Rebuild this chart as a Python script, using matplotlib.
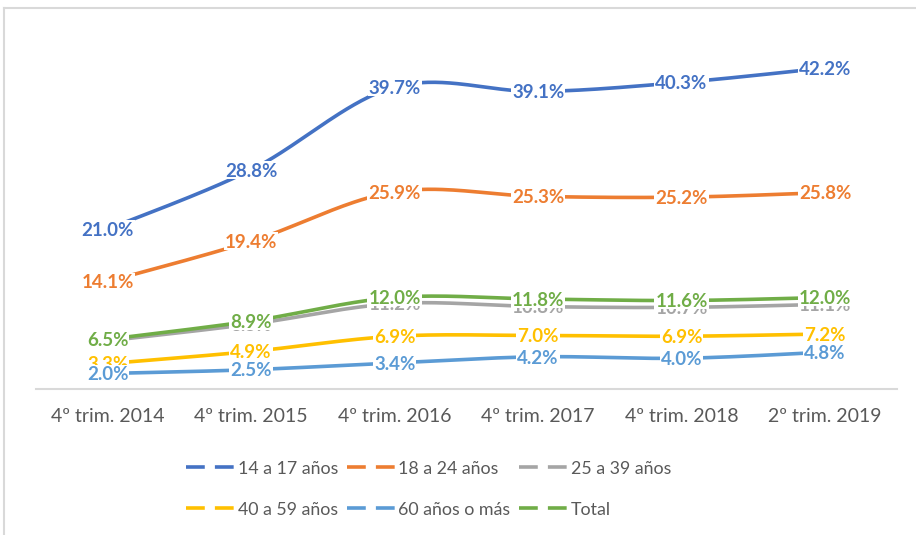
import numpy as np
import matplotlib
matplotlib.use("Agg")
import matplotlib.pyplot as plt
from matplotlib.lines import Line2D
from matplotlib.patches import Rectangle
from matplotlib.transforms import offset_copy, IdentityTransform

plt.rcParams['font.family'] = ['Lato', 'DejaVu Sans']

# datos
trimestres = ["4º trim. 2014", "4º trim. 2015", "4º trim. 2016",
              "4º trim. 2017", "4º trim. 2018", "2º trim. 2019"]
edad_14_17 = [21.0, 28.8, 39.7, 39.1, 40.3, 42.2]
edad_18_24 = [14.1, 19.4, 25.9, 25.3, 25.2, 25.8]
edad_25_39 = [6.3, 8.5, 11.2, 10.8, 10.7, 11.1]
edad_40_59 = [3.3, 4.9, 6.9, 7.0, 6.9, 7.2]
edad_60_mas = [2.0, 2.5, 3.4, 4.2, 4.0, 4.8]
total = [6.5, 8.9, 12.0, 11.8, 11.6, 12.0]

series = [
    ("14 a 17 años", edad_14_17, "#4472C4"),
    ("18 a 24 años", edad_18_24, "#ED7D31"),
    ("25 a 39 años", edad_25_39, "#A5A5A5"),
    ("40 a 59 años", edad_40_59, "#FFC000"),
    ("60 años o más", edad_60_mas, "#5B9BD5"),
    ("Total", total, "#70AD47"),
]


def suavizar(x, y, n=40):
    # curva bezier tipo Excel entre puntos consecutivos
    x = np.asarray(x, float)
    y = np.asarray(y, float)
    px = np.concatenate([[x[0]], x, [x[-1]]])
    py = np.concatenate([[y[0]], y, [y[-1]]])
    t = np.linspace(0, 1, n)
    xs, ys = [], []
    for i in range(1, len(px) - 2):
        p0 = np.array([px[i], py[i]])
        p3 = np.array([px[i + 1], py[i + 1]])
        c1 = p0 + (np.array([px[i + 1], py[i + 1]]) - np.array([px[i - 1], py[i - 1]])) / 6
        c2 = p3 - (np.array([px[i + 2], py[i + 2]]) - np.array([px[i], py[i]])) / 6
        b = (np.outer((1 - t) ** 3, p0) + np.outer(3 * (1 - t) ** 2 * t, c1)
             + np.outer(3 * (1 - t) * t ** 2, c2) + np.outer(t ** 3, p3))
        xs.append(b[:, 0])
        ys.append(b[:, 1])
    return np.concatenate(xs), np.concatenate(ys)


fig = plt.figure(figsize=(9.16, 5.35), dpi=100)
ax = fig.add_axes([0.0393, 0.2735, 0.9397, 0.6392])

x = np.arange(len(trimestres))
for nombre, vals, color in series:
    sx, sy = suavizar(x, vals)
    ax.plot(sx, sy, color=color, lw=2.6, solid_capstyle='round', zorder=2)

# etiquetas centradas en el punto (altura de mayusculas)
fs = 13.5
cap = 0.72 * fs
textos = []
for k, (nombre, vals, color) in enumerate(series):
    tr = offset_copy(ax.transData, fig=fig, x=0, y=-cap / 2, units='points')
    for xi, v in zip(x, vals):
        t = ax.text(xi, v, f"{v:.1f}%", color=color, fontsize=fs, fontweight='bold',
                    ha='center', va='baseline', transform=tr, zorder=4 + 2 * k)
        textos.append((t, k))

ax.set_xlim(-0.5, len(trimestres) - 0.5)
ax.set_ylim(0, 45)
ax.set_xticks(x)
ax.set_xticklabels(trimestres, fontsize=14, color='#595959')
ax.tick_params(axis='x', length=0, pad=14)
ax.set_yticks([])
for lado in ['top', 'right', 'left']:
    ax.spines[lado].set_visible(False)
ax.spines['bottom'].set_color('#D9D9D9')
ax.spines['bottom'].set_linewidth(1.5)

# leyenda (orden por columnas)
orden = [0, 3, 1, 4, 2, 5]
handles = [Line2D([], [], color=series[i][2], lw=2.6, linestyle=(0, (5.2, 2.8)))
           for i in orden]
etiquetas = [series[i][0] for i in orden]
fig.legend(handles, etiquetas, loc='upper left', bbox_to_anchor=(0.203, 0.139),
           ncol=3, frameon=False, fontsize=12.8, labelcolor='#595959',
           handlelength=2.7, handletextpad=0.2, columnspacing=0.5,
           labelspacing=1.4, borderpad=0, borderaxespad=0)

# marco del grafico
fig.add_artist(Line2D([4 / 916, 4 / 916], [0, 1 - 8 / 535], color='#D9D9D9', lw=1.5,
                      transform=fig.transFigure))
fig.add_artist(Line2D([4 / 916, 1], [1 - 8 / 535, 1 - 8 / 535], color='#D9D9D9', lw=1.5,
                      transform=fig.transFigure))

# fondo blanco ajustado a cada etiqueta, tapa lineas y etiquetas anteriores
fig.canvas.draw()
rend = fig.canvas.get_renderer()
alto = cap * fig.dpi / 72
for t, k in textos:
    bb = t.get_window_extent(rend)
    x0, y0 = t.get_transform().transform(t.get_position())
    ax.add_patch(Rectangle((bb.x0 - 1, y0 - 2), bb.width + 2, alto + 4,
                           transform=IdentityTransform(), fc='white', ec='none',
                           zorder=3 + 2 * k, clip_on=False))

fig.savefig("out.png", dpi=100)
